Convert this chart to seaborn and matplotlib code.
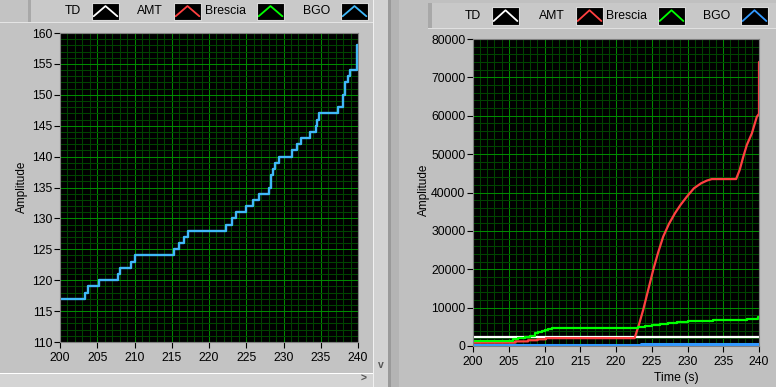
import matplotlib
matplotlib.use("Agg")
import matplotlib.pyplot as plt
import seaborn as sns
from matplotlib.patches import Rectangle
from matplotlib.ticker import MultipleLocator, FixedLocator

# ---------------- data ----------------
legend_names = ["TD", "AMT", "Brescia", "BGO"]
left_colors = ["#ffffff", "#ff4040", "#00ff00", "#40b8f8"]
right_colors = ["#ffffff", "#ff4040", "#00ff00", "#3399ff"]

x_ticks = [200, 205, 210, 215, 220, 225, 230, 235, 240]
left_y_ticks = [110, 115, 120, 125, 130, 135, 140, 145, 150, 155, 160]
right_y_ticks = [0, 10000, 20000, 30000, 40000, 50000, 60000, 70000, 80000]

# left chart: BGO amplitude (step trace)
bgo_left_t = [200, 203.4, 203.7, 205.3, 207.8, 208.05, 209.5, 210.1, 215.3, 216.0,
              216.7, 217.2, 222.3, 223.1, 223.6, 224.9, 225.9, 226.7, 228.0, 228.3,
              228.55, 228.9, 229.4, 231.1, 231.85, 232.4, 233.5, 234.3, 234.45, 234.8,
              237.3, 238.0, 238.3, 238.6, 238.9, 239.8, 240]
bgo_left_v = [117, 118, 119, 120, 121, 122, 123, 124, 125, 126,
              127, 128, 129, 130, 131, 132, 133, 134, 135, 137,
              138, 139, 140, 141, 142, 143, 144, 145, 146, 147,
              148, 150, 152, 153, 154, 158, 158]

# right chart
td_t = [200, 240]
td_v = [2400, 2400]

amt_t = [200, 205.9, 205.9, 207.7, 207.7, 209.0, 209.0, 210.2, 210.2, 222.6,
         223.2, 223.8, 224.5, 225.2, 225.9, 226.6, 227.4, 228.25, 229.0, 229.9,
         230.9, 231.9, 232.7, 233.4, 236.8, 237.3, 237.8, 238.3, 239.0, 239.7,
         240.0, 240.0]
amt_v = [870, 870, 1200, 1200, 1500, 1500, 1750, 1750, 2050, 2050,
         5500, 9400, 14600, 19800, 24400, 28500, 31800, 34600, 36700, 38900,
         41100, 42400, 43100, 43500, 43500, 45900, 49300, 52400, 55400, 59750,
         60500, 74000]

brescia_t = [200, 205.55, 206.34, 207.27, 207.97, 208.67, 209.1, 209.6, 210.07, 210.5,
             211.0, 222.8, 223.1, 224.1, 225.0, 226.2, 227.3, 228.5, 230.1, 233.6,
             238.3, 239.9, 240]
brescia_v = [1300, 1740, 2085, 2430, 2690, 3300, 3560, 3910, 4170, 4430,
             4600, 4600, 4870, 5200, 5470, 5730, 6000, 6170, 6430, 6690,
             7040, 7470, 7470]

bgo_right_t = [200, 223.5, 240]
bgo_right_v = [150, 400, 400]

glyph_x = [0.06, 0.5, 0.94]
glyph_y = [0.22, 0.82, 0.22]

# ---------------- style ----------------
sns.set_theme(style="dark")
plt.rcParams["font.family"] = ["Liberation Sans", "DejaVu Sans"]
plt.rcParams["axes.linewidth"] = 0.8

W, H = 776, 387
fig = plt.figure(figsize=(W / 100, H / 100), dpi=100)
fig.patch.set_facecolor("#c3c3c3")


def frect(x, y, w, h):
    return (x / W, 1 - (y + h) / H, w / W, h / H)


def add_rect(x, y, w, h, color, z=-5):
    fx, fy, fw, fh = frect(x, y, w, h)
    fig.add_artist(Rectangle((fx, fy), fw, fh, transform=fig.transFigure,
                             facecolor=color, edgecolor="none", zorder=z))


# panel decorations
add_rect(0, 373, 373, 14, "#d4d4d4")
add_rect(0, 372.5, 373, 1.2, "#ffffff")
add_rect(373, 0, 15, 387, "#d2d2d2")
add_rect(373, 0, 1.2, 387, "#f0f0f0")
add_rect(388, 0, 3, 387, "#9a9a9a")
add_rect(391, 0, 385, 387, "#c0c0c0")
add_rect(391, 0, 8, 387, "#b4b4b4")
# legend bars
add_rect(28, 0, 345, 22, "#c9c9c9")
add_rect(28, 0, 3, 22, "#a8a8a8")
add_rect(0, 22, 373, 1.2, "#e4e4e4")
add_rect(428, 3, 348, 25, "#c8c8c8")
add_rect(428, 3, 4, 25, "#a8a8a8")
add_rect(428, 28, 348, 1.2, "#e0e0e0")
# scroll arrows
fig.text(364 / W, 1 - 379 / H, ">", ha="center", va="center", fontsize=7.5,
         color="#555555", fontweight="bold")
fig.text(380.5 / W, 1 - 365 / H, "v", ha="center", va="center", fontsize=7.5,
         color="#555555", fontweight="bold")


def style_axes(ax, ylim, yticks, ymin_step):
    ax.set_facecolor("black")
    ax.set_xlim(200, 240)
    ax.set_ylim(*ylim)
    ax.xaxis.set_major_locator(FixedLocator(x_ticks))
    ax.yaxis.set_major_locator(FixedLocator(yticks))
    ax.xaxis.set_minor_locator(MultipleLocator(1))
    ax.yaxis.set_minor_locator(MultipleLocator(ymin_step))
    ax.grid(which="minor", color="#004400", lw=0.75)
    ax.grid(which="major", color="#008a00", lw=0.75)
    ax.set_axisbelow(True)
    ax.tick_params(which="major", direction="out", length=4, width=0.8,
                   color="black", labelsize=8.8, labelcolor="black", pad=1.5,
                   left=True, bottom=True)
    ax.tick_params(axis="x", which="major", pad=3.5)
    ax.tick_params(which="minor", length=0)
    for s in ax.spines.values():
        s.set_color("#808080")
        s.set_linewidth(0.8)
    ax.set_xlabel("")
    ax.set_ylabel("")


# ---------------- left chart ----------------
axL = fig.add_axes(frect(60, 33, 298, 309))
sns.lineplot(x=bgo_left_t, y=bgo_left_v, ax=axL, color=left_colors[3], lw=1.7,
             drawstyle="steps-post", estimator=None, sort=False)
style_axes(axL, (110, 160), left_y_ticks, 1)

# ---------------- right chart ----------------
axR = fig.add_axes(frect(473, 39, 286, 307))
sns.lineplot(x=td_t, y=td_v, ax=axR, color=right_colors[0], lw=1.6,
             estimator=None, sort=False)
sns.lineplot(x=amt_t, y=amt_v, ax=axR, color=right_colors[1], lw=1.6,
             estimator=None, sort=False)
sns.lineplot(x=brescia_t, y=brescia_v, ax=axR, color=right_colors[2], lw=1.6,
             drawstyle="steps-post", estimator=None, sort=False)
sns.lineplot(x=bgo_right_t, y=bgo_right_v, ax=axR, color=right_colors[3], lw=2.2,
             drawstyle="steps-post", estimator=None, sort=False)
style_axes(axR, (0, 80000), right_y_ticks, 2000)
axR.set_yticklabels([str(v) for v in right_y_ticks])

# axis titles
fig.text(22 / W, 1 - 187 / H, "Amplitude", rotation=90, ha="center", va="center",
         fontsize=8.5, color="black")
fig.text(424 / W, 1 - 190 / H, "Amplitude", rotation=90, ha="center", va="center",
         fontsize=8.5, color="black")
fig.text(676 / W, 1 - 378 / H, "Time (s)", ha="center", va="center",
         fontsize=8.8, color="black")

# ---------------- legends ----------------
left_boxes = [92, 174, 257, 341]
right_boxes = [492, 576, 658, 741]


def draw_legend(boxes, top, h, colors, text_y):
    for name, bx, col in zip(legend_names, boxes, colors):
        fig.text((bx - 11) / W, 1 - text_y / H, name, ha="right", va="center",
                 fontsize=8.8, color="black")
        gax = fig.add_axes(frect(bx, top, 27, h))
        gax.set_facecolor("black")
        gax.plot(glyph_x, glyph_y, color=col, lw=1.3)
        gax.set_xlim(0, 1)
        gax.set_ylim(0, 1)
        gax.set_xticks([])
        gax.set_yticks([])
        gax.grid(False)
        for s in gax.spines.values():
            s.set_color("#d8d8d8")
            s.set_linewidth(0.8)


draw_legend(left_boxes, 3, 17, left_colors, 11)
draw_legend(right_boxes, 7, 18, right_colors, 16)

fig.savefig("out.png", dpi=100, facecolor=fig.get_facecolor())
